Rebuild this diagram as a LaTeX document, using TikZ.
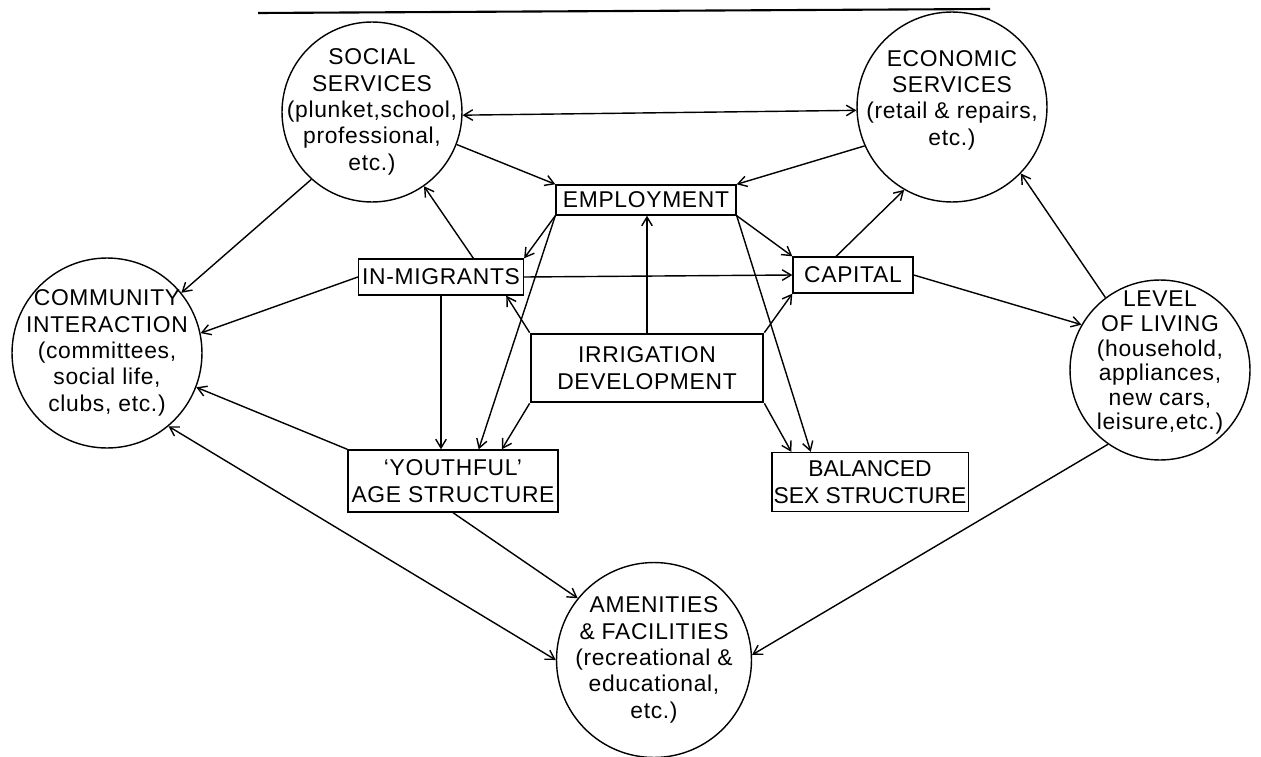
\documentclass[tikz,border=0pt]{standalone}
\usepackage{fontspec}
\setmainfont[LetterSpace=3]{Liberation Sans}
\usetikzlibrary{arrows.meta, positioning}

\begin{document}
\begin{tikzpicture}[x=0.02cm, y=-0.02cm, font=\fontsize{13}{15}\selectfont,
    bubble/.style={circle, draw, line width=0.8pt, inner sep=0pt},
    box/.style={rectangle, draw, line width=0.8pt, inner sep=2pt, align=center},
    link/.style={line width=0.8pt, -{Straight Barb[length=5pt, width=6pt]}},
    twoway/.style={line width=0.8pt, {Straight Barb[length=5pt, width=6pt]}-{Straight Barb[length=5pt, width=6pt]}}]
    \useasboundingbox (0,0) rectangle (1261,757);
    % Top rule
    \draw[line width=1.2pt] (258,13) -- (990,9);
    % Circles
    \node[bubble, minimum size=3.6cm, label={[align=center]center:SOCIAL\\SERVICES\\(plunket,school,\\professional,\\etc.)}] (social) at (372,112) {};
    \node[bubble, minimum size=3.8cm, label={[align=center, yshift=4pt]center:ECONOMIC\\SERVICES\\(retail \& repairs,\\etc.)}] (economic) at (952,107) {};
    \node[bubble, minimum size=3.8cm, label={[align=center]center:COMMUNITY\\INTERACTION\\(committees,\\social life,\\clubs, etc.)}] (community) at (107,353) {};
    \node[bubble, minimum size=3.6cm, label={[align=center, yshift=4pt, font=\fontsize{13}{14}\selectfont]center:LEVEL\\OF LIVING\\(household,\\appliances,\\new cars,\\leisure,etc.)}] (level) at (1160,370) {};
    \node[bubble, minimum size=3.9cm, label={[align=center]center:AMENITIES\\\& FACILITIES\\(recreational \&\\educational,\\etc.)}] (amenities) at (654,660) {};
    % Boxes
    \node[box, minimum width=3.6cm, minimum height=0.6cm] (employment) at (646,200) {EMPLOYMENT};
    \node[box, minimum width=3.22cm, minimum height=0.72cm] (inmigrants) at (441,277) {IN-MIGRANTS};
    \node[box, minimum width=2.4cm, minimum height=0.72cm] (capital) at (853,275) {CAPITAL};
    \node[box, line width=1.6pt, minimum width=4.64cm, minimum height=1.36cm] (irrigation) at (647,368) {IRRIGATION\\DEVELOPMENT};
    \node[box, minimum width=4.16cm, minimum height=1.24cm] (youthful) at (453,481) {‘YOUTHFUL’\\AGE STRUCTURE};
    \node[box, minimum width=3.8cm, minimum height=1.18cm, inner sep=1pt, font=\addfontfeature{LetterSpace=0}\fontsize{13}{15}\selectfont] (balanced) at (870,482) {BALANCED\\SEX STRUCTURE};
    % Services
    \draw[twoway] (social.-2) -- (economic.182);
    \draw[link] (social.-21) -- (employment.north west);
    \draw[link] (economic.204) -- (employment.north east);
    \draw[link] (social.-132) -- (community.39);
    \draw[link] (inmigrants.30) -- (social.-55);
    \draw[link] (inmigrants.west) -- (community.12);
    % From employment
    \draw[link] (employment.south west) -- (inmigrants.north east);
    \draw[link] (employment.south west) -- (youthful.51);
    \draw[link] (employment.south east) -- (capital.north west);
    \draw[link] (employment.south east) -- (balanced.153);
    % From irrigation
    \draw[link] (irrigation.north) -- (irrigation.north |- employment.south);
    \draw[link] (irrigation.north west) -- (inmigrants.-16);
    \draw[link] (irrigation.south west) -- (youthful.33);
    \draw[link] (irrigation.north east) -- (capital.south west);
    \draw[link] (irrigation.south east) -- (balanced.159);
    % In-migrants
    \draw[link] (inmigrants.east) -- (capital.west);
    \draw[link] (inmigrants.south) -- (inmigrants.south |- youthful.north);
    % Capital and level of living
    \draw[link] (capital.132) -- (economic.-120);
    \draw[link] (capital.east) -- (level.150);
    \draw[link] (level.127) -- (economic.-44);
    % Community and amenities
    \draw[link] (youthful.north west) -- (community.-21);
    \draw[twoway] (community.-50) -- (amenities.180);
    \draw[link] (youthful.south) -- (amenities.141);
    \draw[link] (level.-125) -- (amenities.3);
\end{tikzpicture}
\end{document}
